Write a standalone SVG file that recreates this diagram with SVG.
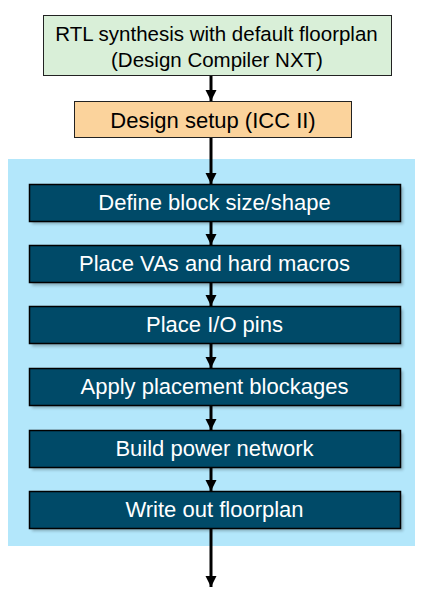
<svg xmlns="http://www.w3.org/2000/svg" width="425" height="589" viewBox="0 0 425 589">
<defs>
<style>
text{font-family:"Liberation Sans",Arial,sans-serif;font-size:22px;text-anchor:middle}
.dark rect.b{fill:#004a68;stroke:#000;stroke-width:1.5}
.dark rect.s{fill:#000;opacity:0.25}
.dark text{fill:#fff}
.conn line{stroke:#000;stroke-width:3}
</style>
<marker id="ah" viewBox="0 0 10 10" refX="10" refY="5" markerWidth="3.7" markerHeight="3.7" orient="auto" markerUnits="strokeWidth">
<path d="M0,0 L10,5 L0,10 z" fill="#000"/>
</marker>
<filter id="blur" x="-10%" y="-30%" width="120%" height="160%"><feGaussianBlur stdDeviation="1.5"/></filter>
</defs>
<rect width="425" height="589" fill="#fff"/>
<rect x="8" y="159" width="407" height="387" fill="#b3e7fb"/>
<g id="n-rtl">
<rect x="43.5" y="15.5" width="348" height="60" fill="#d9efd8" stroke="#222" stroke-width="1"/>
<text x="216.5" y="41" style="font-size:20.5px">RTL synthesis with default floorplan</text>
<text x="217" y="66.5" style="font-size:20.5px">(Design Compiler NXT)</text>
</g>
<g id="n-setup">
<rect x="74.5" y="101.5" width="277" height="36" fill="#fbd39c" stroke="#222" stroke-width="1"/>
<text x="213" y="128">Design setup (ICC II)</text>
</g>
<g id="n-define" class="dark">
<rect class="s" x="32" y="187" width="371" height="37" filter="url(#blur)"/>
<rect class="b" x="29.5" y="184.5" width="371" height="37"/>
<text x="214.5" y="210">Define block size/shape</text>
</g>
<g id="n-place" class="dark">
<rect class="s" x="32" y="248.5" width="371" height="37" filter="url(#blur)"/>
<rect class="b" x="29.5" y="245.5" width="371" height="37"/>
<text x="214.5" y="271">Place VAs and hard macros</text>
</g>
<g id="n-io" class="dark">
<rect class="s" x="32" y="309.5" width="371" height="37" filter="url(#blur)"/>
<rect class="b" x="29.5" y="306.5" width="371" height="37"/>
<text x="214.5" y="332">Place I/O pins</text>
</g>
<g id="n-block" class="dark">
<rect class="s" x="32" y="371" width="371" height="37" filter="url(#blur)"/>
<rect class="b" x="29.5" y="368.5" width="371" height="37"/>
<text x="214.5" y="394">Apply placement blockages</text>
</g>
<g id="n-power" class="dark">
<rect class="s" x="32" y="433" width="371" height="37" filter="url(#blur)"/>
<rect class="b" x="29.5" y="430.5" width="371" height="37"/>
<text x="214.5" y="455.5">Build power network</text>
</g>
<g id="n-write" class="dark">
<rect class="s" x="32" y="494" width="371" height="37" filter="url(#blur)"/>
<rect class="b" x="29.5" y="491.5" width="371" height="37"/>
<text x="214.5" y="517">Write out floorplan</text>
</g>
<g class="conn">
<line x1="211" y1="76" x2="211" y2="101" marker-end="url(#ah)"/>
<line x1="211" y1="138" x2="211" y2="184" marker-end="url(#ah)"/>
<line x1="211" y1="222" x2="211" y2="245" marker-end="url(#ah)"/>
<line x1="211" y1="283" x2="211" y2="306" marker-end="url(#ah)"/>
<line x1="211" y1="344" x2="211" y2="368" marker-end="url(#ah)"/>
<line x1="211" y1="406" x2="211" y2="430" marker-end="url(#ah)"/>
<line x1="211" y1="468" x2="211" y2="491" marker-end="url(#ah)"/>
<line x1="211" y1="529" x2="211" y2="587" marker-end="url(#ah)"/>
</g>
</svg>
